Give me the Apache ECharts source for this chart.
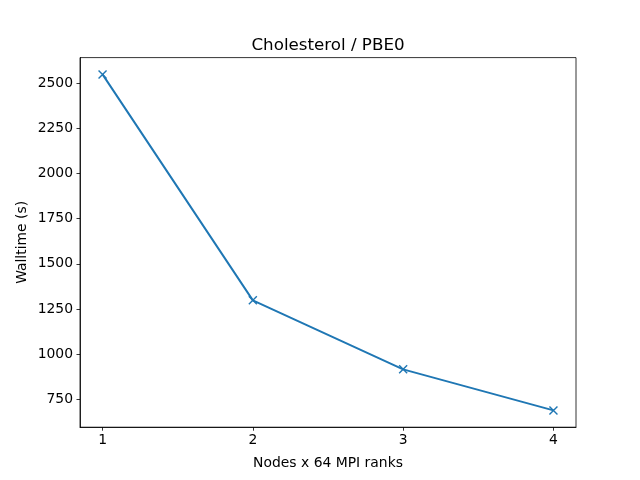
<!DOCTYPE html>
<html><head><meta charset="utf-8">
<script src="https://cdn.jsdelivr.net/npm/echarts@6/dist/echarts.min.js"></script>
<style>html,body{margin:0;padding:0;background:#fff}#c{width:640px;height:480px}</style>
</head><body><div id="c"></div>
<script>
const nodes = [1, 2, 3, 4];
const walltime = [2548, 1298, 916, 689];
const xTicks = [1, 2, 3, 4];
const yTicks = [750, 1000, 1250, 1500, 1750, 2000, 2250, 2500];

const chart = echarts.init(document.getElementById('c'), null, {renderer: 'canvas'});
const font = 'DejaVu Sans';
chart.setOption({
  animation: false,
  backgroundColor: '#fff',
  title: {
    text: 'Cholesterol / PBE0',
    left: 323, top: 32, textAlign: 'center',
    textStyle: {fontFamily: font, fontSize: 16.7, fontWeight: 'normal', color: '#000'}
  },
  grid: {left: 80, right: 64, top: 57.6, bottom: 52.8, show: true, borderColor: '#000', borderWidth: 0.8, backgroundColor: 'transparent'},
  xAxis: {
    type: 'value', min: 0.85, max: 4.15,
    name: 'Nodes x 64 MPI ranks', nameLocation: 'middle', nameGap: 29,
    nameTextStyle: {fontFamily: font, fontSize: 13.9, color: '#000'},
    axisLine: {show: true, lineStyle: {color: '#000', width: 0.8}},
    axisTick: {show: true, customValues: xTicks, length: 3.5, lineStyle: {color: '#000', width: 0.8}},
    axisLabel: {customValues: xTicks, margin: 6, fontFamily: font, fontSize: 13.9, color: '#000'},
    splitLine: {show: false}
  },
  yAxis: {
    type: 'value', min: 596, max: 2641,
    name: 'Walltime (s)', nameLocation: 'middle', nameGap: 51, nameMoveOverlap: false,
    nameTextStyle: {fontFamily: font, fontSize: 13.9, color: '#000'},
    axisLine: {show: true, lineStyle: {color: '#000', width: 0.8}},
    axisTick: {show: true, customValues: yTicks, length: 3.5, lineStyle: {color: '#000', width: 0.8}},
    axisLabel: {customValues: yTicks, margin: 7, fontFamily: font, fontSize: 13.9, color: '#000',
      formatter: v => String(v)},
    splitLine: {show: false}
  },
  series: [{
    type: 'line',
    data: nodes.map((x, i) => [x, walltime[i]]),
    lineStyle: {color: '#1f77b4', width: 2},
    symbol: 'path://M0,0L10,10M10,0L0,10',
    symbolSize: 8,
    showSymbol: true,
    itemStyle: {color: '#1f77b4', borderColor: '#1f77b4', borderWidth: 1.4},
    z: 3
  }]
});
</script></body></html>
